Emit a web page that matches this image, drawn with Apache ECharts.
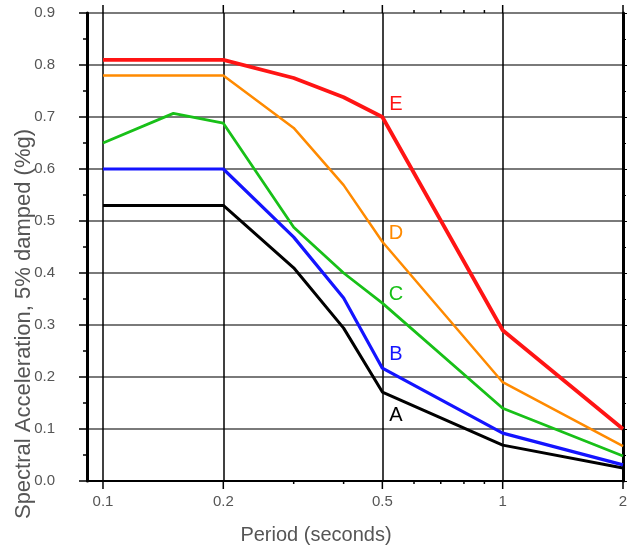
<!DOCTYPE html>
<html><head><meta charset="utf-8">
<script src="https://cdn.jsdelivr.net/npm/echarts@6/dist/echarts.min.js"></script>
<style>html,body{margin:0;padding:0;background:#fff}#c{width:627px;height:548px}</style>
</head><body><div id="c"></div>
<script>
const periodsA = [0.1, 0.2, 0.3, 0.4, 0.5, 1, 2];
const valuesA = [0.53, 0.53, 0.41, 0.294, 0.171, 0.069, 0.025];
const periodsB = [0.1, 0.2, 0.3, 0.4, 0.5, 1, 2];
const valuesB = [0.60, 0.60, 0.469, 0.352, 0.217, 0.092, 0.031];
const periodsC = [0.1, 0.15, 0.2, 0.3, 0.4, 0.5, 1, 2];
const valuesC = [0.65, 0.707, 0.688, 0.488, 0.40, 0.342, 0.14, 0.048];
const periodsD = [0.1, 0.2, 0.3, 0.4, 0.5, 1, 2];
const valuesD = [0.78, 0.78, 0.679, 0.569, 0.46, 0.19, 0.067];
const periodsE = [0.1, 0.2, 0.3, 0.4, 0.5, 1, 2];
const valuesE = [0.81, 0.81, 0.775, 0.738, 0.70, 0.29, 0.10];
const xMajorTicks = [0.1, 0.2, 0.5, 1, 2];
const xTickLabels = ['0.1', '0.2', '0.5', '1', '2'];
const xMinorTicks = [0.3, 0.4, 0.6, 0.7, 0.8, 0.9];
const curveNames = ['A', 'B', 'C', 'D', 'E'];
const labelPeriod = 0.5;

const colors = {A:'#000000', B:'#1414ff', C:'#18c018', D:'#ff8a00', E:'#ff1414'};
const widths = {A:3, B:3.2, C:2.8, D:2.5, E:3.8};
const labelOffsets = {A:[14, 24], B:[14, -13], C:[14, -8], D:[14, -8], E:[14, -12]};
const sets = {A:[periodsA, valuesA], B:[periodsB, valuesB], C:[periodsC, valuesC], D:[periodsD, valuesD], E:[periodsE, valuesE]};

const font = 'Arial, "Liberation Sans", sans-serif';
const series = curveNames.map(n => {
  const [px, vy] = sets[n];
  const idx = px.indexOf(labelPeriod);
  return {
    name: n, type: 'line', symbol: 'none', z: 5,
    lineStyle: {color: colors[n], width: widths[n]},
    data: px.map((p, i) => [p, vy[i]]),
    markPoint: {
      silent: true, animation: false,
      symbol: 'circle', symbolSize: 1, itemStyle: {color: 'rgba(0,0,0,0)'},
      label: {show: true, formatter: n, position: labelOffsets[n], color: colors[n],
        fontSize: 20, fontFamily: font, align: 'center', verticalAlign: 'middle'},
      data: [{coord: [px[idx], vy[idx]]}]
    }
  };
});

// vertical grid lines + x labels
series.push({
  type: 'line', data: [], silent: true,
  markLine: {
    symbol: 'none', silent: true, animation: false,
    lineStyle: {color: '#000', width: 1.5, type: 'solid'},
    label: {show: true, position: 'start', distance: 13, color: '#555', fontSize: 15, fontFamily: font,
      formatter: p => xTickLabels[xMajorTicks.indexOf(p.value)]},
    data: xMajorTicks.map(v => ({xAxis: v}))
  }
});

// outward x ticks at top and bottom
series.push({
  type: 'custom', silent: true, clip: false, z: 3,
  data: xMajorTicks.map(v => [v, 1]).concat(xMinorTicks.map(v => [v, 0])),
  renderItem: (params, api) => {
    const x = api.coord([api.value(0), 0])[0];
    const yb = api.coord([api.value(0), 0])[1];
    const yt = api.coord([api.value(0), 0.9])[1];
    const len = api.value(1) ? 8 : 3;
    return {type: 'group', children: [
      {type: 'line', shape: {x1: x, y1: yt, x2: x, y2: yt - len}, style: {stroke: '#000', lineWidth: 1.5}},
      {type: 'line', shape: {x1: x, y1: yb, x2: x, y2: yb + len}, style: {stroke: '#000', lineWidth: 1.5}}
    ]};
  }
});

const chart = echarts.init(document.getElementById('c'), null, {renderer: 'canvas'});
chart.setOption({
  animation: false,
  backgroundColor: '#fff',
  grid: {left: 87, top: 13, width: 536, height: 468, show: true, borderColor: '#000', borderWidth: 2,
    containLabel: false, outerBoundsMode: 'none'},
  xAxis: {
    type: 'log', min: 0.0912, max: 2, logBase: 10,
    name: 'Period (seconds)', nameLocation: 'middle', nameGap: 44, nameMoveOverlap: false,
    nameTextStyle: {color: '#555', fontSize: 20, fontFamily: font, padding: [0, 78, 0, 0]},
    axisLine: {show: true, lineStyle: {color: '#000', width: 2}},
    axisTick: {show: false}, axisLabel: {show: false}, splitLine: {show: false}, minorTick: {show: false}
  },
  yAxis: [{
    type: 'value', min: 0, max: 0.9, interval: 0.1, position: 'left',
    name: 'Spectral Acceleration, 5% damped (%g)', nameLocation: 'middle', nameGap: 52, nameMoveOverlap: false,
    nameTextStyle: {color: '#555', fontSize: 22, fontFamily: font, padding: [0, 154, 0, 0]},
    axisLine: {show: true, lineStyle: {color: '#000', width: 3}},
    axisTick: {show: true, inside: false, length: 8, lineStyle: {color: '#000', width: 1.5}},
    minorTick: {show: true, splitNumber: 2, length: 4, lineStyle: {color: '#000', width: 1.5}},
    axisLabel: {color: '#555', fontSize: 15, fontFamily: font, margin: 32, formatter: v => v.toFixed(1)},
    splitLine: {show: true, lineStyle: {color: '#7a7a7a', width: 2}}
  }, {
    type: 'value', min: 0, max: 0.9, interval: 0.1, position: 'right',
    axisLine: {show: true, lineStyle: {color: '#000', width: 3}},
    axisTick: {show: true, inside: false, length: 4, lineStyle: {color: '#000', width: 1}},
    minorTick: {show: true, splitNumber: 2, length: 3, lineStyle: {color: '#000', width: 1}},
    axisLabel: {show: false}, splitLine: {show: false}
  }],
  series: series
});
</script></body></html>
